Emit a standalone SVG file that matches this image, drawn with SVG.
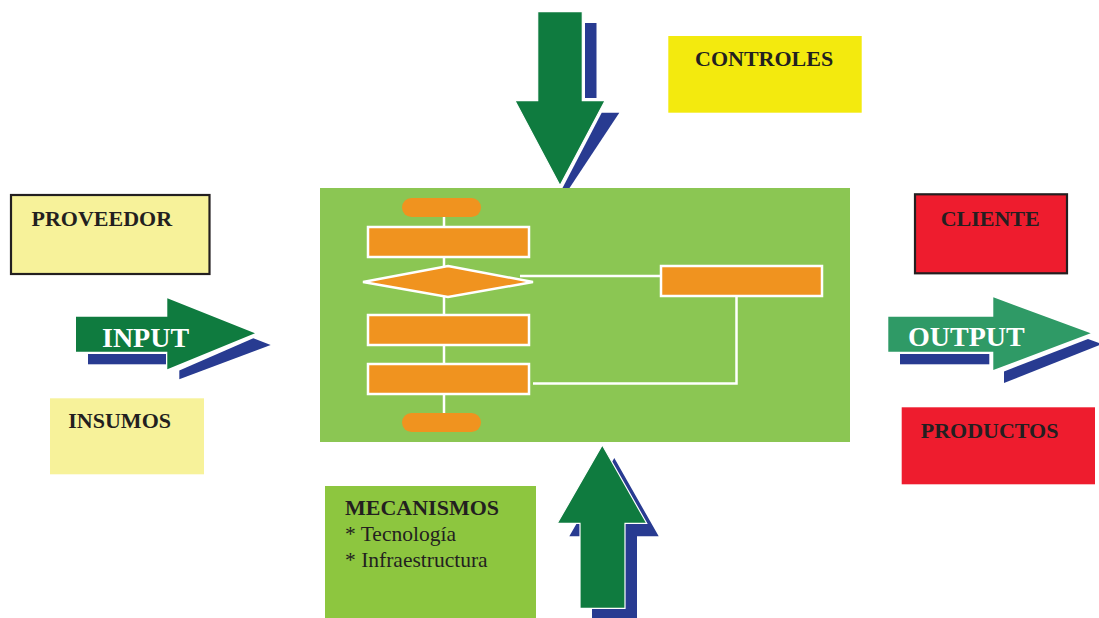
<svg xmlns="http://www.w3.org/2000/svg" width="1099" height="618" viewBox="0 0 1099 618">
  <style>
    .lbl { font-family: "Liberation Serif", "Times New Roman", serif; font-size: 22px; font-weight: bold; fill: #231f20; }
    .item { font-family: "Liberation Serif", "Times New Roman", serif; font-size: 21.5px; fill: #231f20; }
    .arrtxt { font-family: "Liberation Serif", "Times New Roman", serif; font-size: 28px; font-weight: bold; fill: #ffffff; }
    .shadow { fill: #283b91; }
    .dkgreen { fill: #0f7b3f; stroke: #ffffff; stroke-width: 1.2; }
    .step { fill: #f0931f; stroke: #ffffff; stroke-width: 2.5; }
    .term { fill: #f0931f; }
    .flow { fill: none; stroke: #ffffff; stroke-width: 2.5; }
    .box { stroke: #231f20; stroke-width: 2.2; }
  </style>

  <!-- Process block with its flowchart -->
  <g id="process">
    <rect x="320" y="188" width="530" height="254" fill="#8bc653"/>
  </g>

  <g id="connectors">
    <line class="flow" x1="444" y1="217" x2="444" y2="227"/>
    <line class="flow" x1="444" y1="257" x2="444" y2="266"/>
    <line class="flow" x1="444" y1="297" x2="444" y2="315"/>
    <line class="flow" x1="444" y1="345" x2="444" y2="364"/>
    <line class="flow" x1="444" y1="394" x2="444" y2="413"/>
    <line class="flow" x1="520" y1="276" x2="661" y2="276"/>
    <polyline class="flow" points="533,383.5 736.5,383.5 736.5,296"/>
  </g>

  <g id="start"><rect class="term" x="402" y="198" width="79" height="19" rx="9.5"/></g>
  <g id="step1"><rect class="step" x="368" y="227" width="161" height="30"/></g>
  <g id="decision"><polygon class="step" points="448,266 533,282 448,297 363,282"/></g>
  <g id="step2"><rect class="step" x="368" y="315" width="161" height="30"/></g>
  <g id="step3"><rect class="step" x="368" y="364" width="161" height="30"/></g>
  <g id="end"><rect class="term" x="402" y="413" width="79" height="19" rx="9.5"/></g>
  <g id="branch"><rect class="step" x="661" y="266" width="161" height="30"/></g>

  <!-- Controls arrow from above -->
  <g id="arrow-controls">
    <rect class="shadow" x="585" y="23" width="11.5" height="75"/>
    <polygon class="shadow" points="601.7,112.7 619.3,112.7 569.5,188 562.5,188"/>
    <polygon class="dkgreen" points="537.7,11.7 582.3,11.7 582.3,100.7 605,100.7 560,185.5 515,100.7 537.7,100.7"/>
  </g>

  <!-- Mechanisms arrow from below -->
  <g id="arrow-mechanisms">
    <polygon class="shadow" transform="translate(12,13)" points="602.3,445 646.7,523.3 625,523.3 625,612 580,612 580,523.3 557.3,523.3"/>
    <polygon class="dkgreen" points="602.3,445 646.7,523.3 625,523.3 625,608.3 580,608.3 580,523.3 557.3,523.3"/>
  </g>

  <!-- Input arrow -->
  <g id="arrow-input">
    <rect class="shadow" x="88" y="354" width="78" height="10.3"/>
    <polygon class="shadow" points="179.3,370.5 253.3,338.3 270.7,345 179.3,379.3"/>
    <polygon fill="#0f7b3f" points="76,316.7 167.3,316.7 167.3,298.3 255,333.3 167.3,369.3 167.3,351.7 76,351.7"/>
    <text class="arrtxt" x="102" y="347">INPUT</text>
  </g>

  <!-- Output arrow -->
  <g id="arrow-output">
    <rect class="shadow" x="900" y="354" width="89.3" height="10.3"/>
    <polygon class="shadow" points="1004,371.5 1088,339 1102,344 1004,383"/>
    <polygon fill="#2f9a66" points="888.3,316.7 993.3,316.7 993.3,297.3 1090.7,333.3 993.3,370 993.3,351.7 888.3,351.7"/>
    <text class="arrtxt" x="908" y="346">OUTPUT</text>
  </g>

  <!-- Labels -->
  <g id="proveedor">
    <rect class="box" x="11" y="195" width="198.5" height="79" fill="#f7f29a"/>
    <text class="lbl" x="31.5" y="225.5">PROVEEDOR</text>
  </g>
  <g id="insumos">
    <rect x="50" y="398.3" width="154" height="76" fill="#f7f29a"/>
    <text class="lbl" x="68.3" y="427.5">INSUMOS</text>
  </g>
  <g id="controles">
    <rect x="668.3" y="36" width="193.4" height="76.7" fill="#f3ea0e"/>
    <text class="lbl" x="695" y="66">CONTROLES</text>
  </g>
  <g id="cliente">
    <rect class="box" x="915" y="194.3" width="152" height="79" fill="#ee1c2e"/>
    <text class="lbl" x="940.7" y="226">CLIENTE</text>
  </g>
  <g id="productos">
    <rect x="901.7" y="407.3" width="193.3" height="77" fill="#ee1c2e"/>
    <text class="lbl" x="920.7" y="437.7">PRODUCTOS</text>
  </g>
  <g id="mecanismos">
    <rect x="325" y="486" width="211" height="132" fill="#8dc63f"/>
    <text class="lbl" x="345" y="515">MECANISMOS</text>
    <text class="item" x="345" y="541">* Tecnología</text>
    <text class="item" x="345" y="566.7">* Infraestructura</text>
  </g>
</svg>
